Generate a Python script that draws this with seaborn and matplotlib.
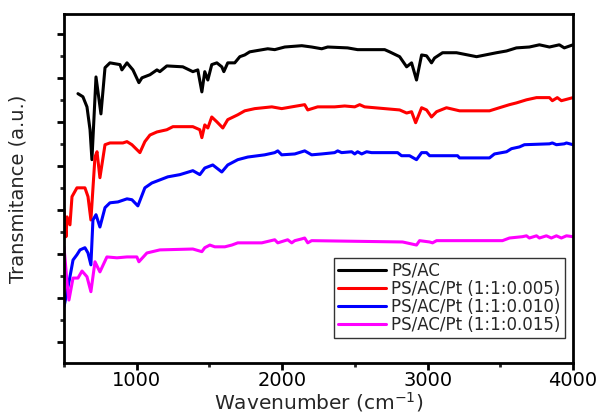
import pandas as pd
import matplotlib
matplotlib.use("Agg")
import matplotlib.pyplot as plt
from matplotlib.ticker import MultipleLocator
import seaborn as sns

# FTIR spectra (transmittance in a.u., curves offset)
wn_ps_ac = [596, 630, 658, 679, 692, 720, 754, 782, 816, 885, 898, 933, 974, 1015, 1036,
            1091, 1139, 1159, 1207, 1317, 1386, 1420, 1448, 1468, 1489, 1516, 1551, 1585,
            1599, 1626, 1674, 1709, 1743, 1777, 1812, 1901, 1949, 2018, 2135, 2203, 2272,
            2313, 2450, 2519, 2705, 2739, 2808, 2856, 2890, 2924, 2959, 2993, 3027, 3048,
            3103, 3199, 3337, 3474, 3543, 3611, 3700, 3769, 3838, 3906, 3940, 4000]
t_ps_ac = [56.4, 55.7, 53.4, 48.2, 41.4, 60.2, 51.8, 62.3, 63.4, 63.0, 61.8, 63.4, 61.8, 58.9, 60.0,
           60.7, 61.8, 61.4, 62.7, 62.5, 61.4, 61.8, 56.8, 61.4, 59.5, 63.0, 63.4, 62.5,
           61.4, 63.4, 63.4, 64.8, 65.2, 65.9, 66.1, 66.6, 66.4, 67.0, 67.3, 67.0, 66.6,
           67.0, 66.8, 66.4, 66.4, 65.9, 64.8, 62.5, 63.4, 59.5, 65.2, 65.0, 63.4, 64.5,
           65.7, 65.7, 64.8, 65.7, 66.1, 66.8, 67.0, 67.5, 67.0, 67.5, 66.8, 67.5]

wn_pt005 = [500, 514, 521, 541, 555, 589, 644, 665, 685, 713, 727, 747, 782, 816, 905, 933,
            967, 1022, 1056, 1091, 1139, 1207, 1249, 1386, 1434, 1448, 1468, 1489, 1516,
            1551, 1592, 1626, 1695, 1743, 1812, 1929, 1997, 2066, 2155, 2176, 2244, 2361,
            2430, 2499, 2533, 2567, 2808, 2856, 2890, 2918, 2959, 2993, 3027, 3062, 3130,
            3220, 3426, 3494, 3563, 3611, 3680, 3749, 3838, 3858, 3892, 3920, 4000]
t_pt005 = [30.0, 23.9, 28.4, 26.6, 33.0, 35.0, 35.0, 33.0, 27.7, 42.0, 43.2, 37.3, 44.8, 45.2, 45.2, 45.5,
           44.8, 43.0, 45.5, 47.0, 47.7, 48.2, 48.9, 48.9, 48.2, 46.4, 49.3, 48.6, 51.1,
           50.0, 48.6, 50.5, 51.6, 52.5, 53.0, 53.4, 53.0, 53.4, 53.9, 52.7, 53.4, 53.4,
           53.6, 53.4, 53.9, 53.4, 52.7, 52.0, 52.3, 49.8, 53.2, 52.7, 51.1, 52.3, 53.2,
           52.5, 52.5, 53.2, 53.9, 54.3, 55.0, 55.5, 55.5, 54.8, 55.5, 54.8, 55.5]

wn_pt010 = [500, 514, 541, 562, 589, 610, 644, 665, 685, 699, 720, 747, 782, 816, 871, 933,
            967, 1008, 1056, 1104, 1159, 1214, 1297, 1386, 1434, 1468, 1523, 1585, 1626,
            1695, 1764, 1880, 1949, 1970, 1997, 2087, 2155, 2203, 2272, 2361, 2382, 2409,
            2478, 2499, 2519, 2547, 2581, 2615, 2794, 2821, 2876, 2924, 2959, 2993, 3014,
            3206, 3220, 3426, 3460, 3543, 3577, 3632, 3666, 3838, 3858, 3886, 3940, 3955, 4000]
t_pt010 = [8.0, 10.2, 14.8, 18.6, 19.8, 20.9, 21.4, 20.2, 17.5, 27.7, 28.9, 26.1, 30.5, 31.6, 31.8, 32.5,
           32.3, 30.9, 35.0, 36.1, 36.8, 37.5, 38.0, 38.9, 38.0, 39.5, 40.2, 38.6, 40.2,
           41.4, 42.0, 42.5, 43.0, 43.4, 42.5, 42.7, 43.4, 42.5, 42.7, 43.0, 43.4, 43.0,
           43.2, 42.7, 43.2, 42.7, 43.2, 43.0, 43.0, 42.3, 42.3, 41.4, 43.0, 43.0, 42.3,
           42.3, 41.8, 41.8, 42.7, 43.2, 43.9, 44.3, 44.8, 45.0, 45.2, 44.8, 45.0, 45.2, 44.8]

wn_pt015 = [500, 521, 534, 562, 596, 624, 658, 685, 713, 747, 795, 864, 933, 1001, 1015, 1070,
            1159, 1386, 1448, 1468, 1503, 1537, 1606, 1654, 1695, 1860, 1949, 1970, 2038,
            2066, 2087, 2135, 2155, 2176, 2203, 2828, 2856, 2924, 2945, 3014, 3034, 3062,
            3515, 3563, 3652, 3680, 3700, 3749, 3769, 3817, 3851, 3886, 3920, 3955, 4000]
t_pt015 = [21.6, 13.4, 9.5, 14.5, 14.5, 16.1, 14.8, 11.4, 18.2, 15.9, 19.3, 19.1, 19.3, 19.3, 18.2, 20.2,
           20.9, 21.1, 20.5, 21.4, 22.0, 21.6, 21.6, 22.0, 22.5, 22.5, 23.2, 22.5, 23.2,
           22.5, 23.0, 23.4, 23.6, 22.5, 23.0, 22.7, 22.5, 22.0, 23.0, 22.7, 22.5, 23.0,
           23.0, 23.6, 23.9, 24.1, 23.6, 24.1, 23.6, 24.1, 23.6, 24.1, 23.6, 24.1, 23.9]

labels = ["PS/AC", "PS/AC/Pt (1:1:0.005)", "PS/AC/Pt (1:1:0.010)", "PS/AC/Pt (1:1:0.015)"]
colors = ["black", "#ff0000", "#0000ff", "#ff00ff"]

frames = []
for lab, wn, t in zip(labels, [wn_ps_ac, wn_pt005, wn_pt010, wn_pt015],
                      [t_ps_ac, t_pt005, t_pt010, t_pt015]):
    frames.append(pd.DataFrame({"wavenumber": wn, "transmittance": t, "sample": lab}))
df = pd.concat(frames, ignore_index=True)

sns.set_style("ticks")
plt.rcParams["font.family"] = ["DejaVu Sans"]

fig = plt.figure(figsize=(6.01, 4.16), dpi=100)
ax = fig.add_axes([64 / 601, 1 - 363 / 416, 509 / 601, 349 / 416])

sns.lineplot(data=df, x="wavenumber", y="transmittance", hue="sample",
             hue_order=labels, palette=colors, estimator=None, sort=False,
             linewidth=2.2, ax=ax)

ax.set_xlim(500, 4000)
ax.set_ylim(-4.8, 74.5)
ax.xaxis.set_major_locator(MultipleLocator(1000))
ax.xaxis.set_minor_locator(MultipleLocator(500))
ax.yaxis.set_major_locator(MultipleLocator(10))
ax.yaxis.set_minor_locator(MultipleLocator(5))
ax.tick_params(axis="both", which="major", direction="out", length=5, width=2,
               labelsize=14, colors="black", pad=1)
ax.tick_params(axis="both", which="minor", direction="out", length=3, width=2)
ax.tick_params(axis="y", labelleft=False)
for s in ax.spines.values():
    s.set_linewidth(2)
    s.set_color("black")

ax.set_xlabel("Wavenumber (cm$^{-1}$)", fontsize=14.5, labelpad=0)
ax.set_ylabel("Transmitance (a.u.)", fontsize=14, labelpad=20)

leg = ax.legend(loc="lower right", bbox_to_anchor=(0.984, 0.072), borderaxespad=0,
                fontsize=12, frameon=True, fancybox=False, edgecolor="black",
                handlelength=2.9, labelspacing=0.0, borderpad=0.25, handletextpad=0.3)
leg.get_frame().set_linewidth(1.0)
for line in leg.get_lines():
    line.set_linewidth(2.2)

fig.savefig("out.png", dpi=100)
